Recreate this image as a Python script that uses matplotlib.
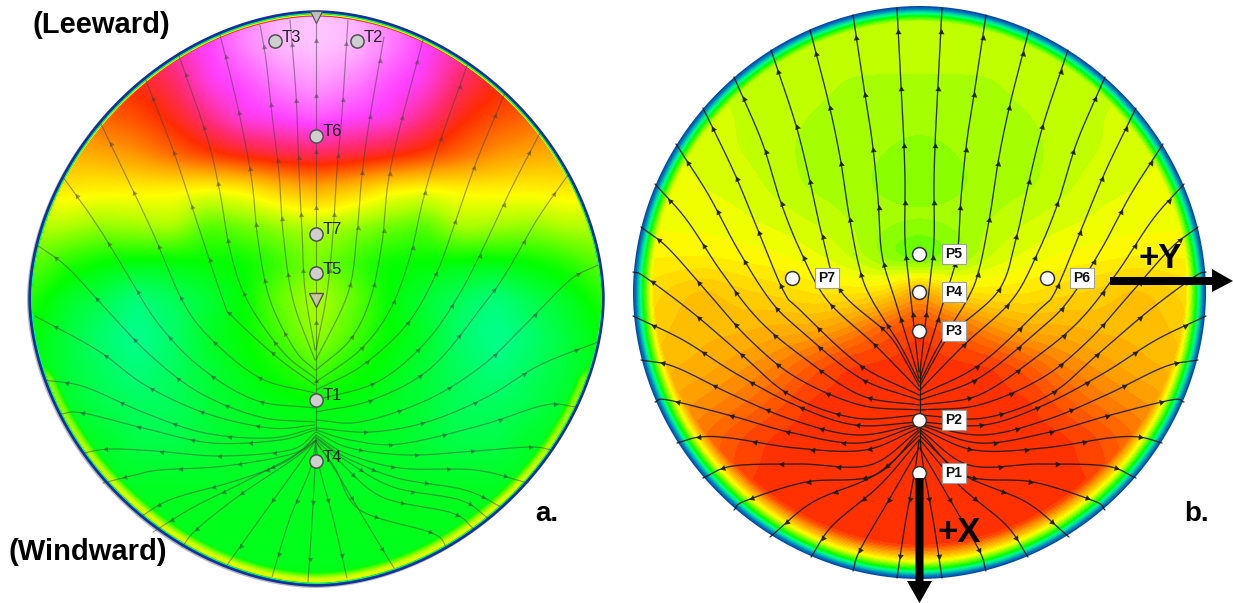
import numpy as np
import matplotlib
matplotlib.use("Agg")
import matplotlib.pyplot as plt
from matplotlib.colors import LinearSegmentedColormap
from matplotlib.patches import Polygon

plt.rcParams['font.family'] = ['Liberation Sans', 'DejaVu Sans']

# ---------- colour scale ----------
scale_stops = [0.0, 0.10, 0.22, 0.32, 0.40, 0.50, 0.55, 0.65, 0.75, 0.81, 0.88, 1.0]
scale_colors = ['#0a2a9a', '#0080c0', '#00d0a0', '#00ff90', '#00ff00', '#b4ff00', '#ffff00',
                '#ffa000', '#ff2d00', '#ff2a70', '#ff40ff', '#ffe0ff']

# ---------- fields (half-disc, mirrored), columns = distance from the axis ----------
col_dx = [0, 36, 72, 108, 144, 180, 216, 252, 288]
row_dy = [-288, -252, -216, -180, -144, -108, -72, -36, 0, 36, 72, 108, 144, 180, 216, 252, 288]

field_a = [
    [.98, .97, .93, .89, .85, .80, .78, .75, .75],
    [.98, .97, .93, .88, .84, .80, .78, .75, .75],
    [.95, .93, .89, .87, .80, .76, .75, .74, .74],
    [.90, .88, .87, .82, .76, .72, .70, .68, .68],
    [.80, .79, .77, .74, .70, .66, .64, .63, .60],
    [.63, .60, .555, .54, .555, .56, .56, .57, .57],
    [.50, .48, .46, .44, .50, .49, .48, .50, .50],
    [.47, .43, .40, .40, .39, .39, .40, .42, .46],
    [.50, .46, .40, .37, .35, .33, .36, .38, .42],
    [.49, .44, .40, .38, .34, .32, .34, .37, .40],
    [.44, .41, .39, .37, .35, .33, .35, .37, .40],
    [.39, .39, .38, .37, .35, .35, .36, .38, .40],
    [.39, .38, .38, .37, .36, .36, .38, .39, .40],
    [.385, .38, .38, .38, .38, .38, .385, .39, .39],
    [.385, .385, .385, .385, .385, .385, .385, .39, .39],
    [.385, .385, .385, .385, .385, .385, .39, .39, .39],
    [.39, .39, .39, .39, .39, .39, .39, .39, .39],
]
field_b = [
    [.505, .505, .505, .505, .505, .51, .51, .51, .51],
    [.505, .505, .505, .505, .505, .51, .51, .51, .51],
    [.50, .50, .50, .505, .51, .51, .515, .52, .52],
    [.49, .49, .495, .50, .505, .515, .52, .525, .53],
    [.48, .485, .49, .495, .505, .515, .525, .53, .53],
    [.475, .48, .49, .495, .51, .525, .53, .54, .54],
    [.49, .49, .50, .515, .525, .535, .54, .54, .55],
    [.43, .47, .515, .535, .55, .555, .56, .56, .56],
    [.66, .58, .57, .575, .59, .60, .62, .60, .57],
    [.74, .71, .66, .63, .63, .62, .62, .61, .58],
    [.74, .74, .74, .71, .67, .65, .63, .62, .60],
    [.74, .74, .74, .74, .71, .68, .66, .64, .60],
    [.74, .74, .74, .74, .74, .72, .69, .65, .60],
    [.74, .74, .74, .74, .74, .73, .68, .63, .60],
    [.74, .74, .74, .74, .74, .74, .72, .66, .60],
    [.74, .74, .74, .74, .74, .74, .74, .70, .60],
    [.74, .74, .74, .74, .74, .74, .74, .72, .60],
]
# ceiling of the value against distance from the rim
rim_d_a = [0, 1.5, 3, 4, 5, 6]
rim_v_a = [.02, .06, .40, .56, .78, 1.0]
rim_d_b = [0, 3, 6, 9, 13, 18, 24, 32, 45]
rim_v_b = [.03, .10, .25, .38, .46, .55, .63, .72, .80]
# pale band inside the rim of disc a, lower half
glow_d = [3, 7, 11, 16]
glow_v = [.54, .52, .45, .36]
glow_dy = [0, 80, 200, 288]
glow_k = [.0, .88, 1.0, 1.0]
# outline exponent of each disc
shape_a = 1.85
shape_b = 1.95

# ---------- streamlines (picture coordinates), rim end first ----------
lines_a = [
    [(316, 15), (316, 120), (316, 250), (316, 345), (316, 430)],
    [(290, 20), (296, 95), (299, 170), (302, 232), (305, 290), (315, 350)],
    [(260, 25), (266, 60), (272, 115), (279, 173), (283, 232), (293, 300), (315, 360)],
    [(220, 35), (229, 70), (241, 122), (252, 182), (258, 240), (270, 300), (295, 350), (315, 370)],
    [(178, 53), (207, 137), (220, 193), (230, 250), (247, 300), (283, 352), (315, 378)],
    [(145, 78), (173, 150), (192, 207), (223, 300), (233, 317), (278, 358), (315, 385)],
    [(100, 122), (128, 180), (153, 233), (182, 300), (210, 338), (260, 378), (315, 393)],
    [(63, 177), (95, 222), (123, 267), (157, 322), (200, 367), (255, 400), (315, 408)],
    [(37, 245), (67, 267), (107, 310), (150, 355), (200, 393), (260, 417), (315, 422)],
    [(35, 316), (97, 350), (145, 385), (205, 413), (270, 428), (315, 425)],
    [(45, 380), (85, 387), (145, 413), (205, 433), (270, 438), (315, 428)],
    [(60, 414), (83, 413), (147, 429), (212, 443), (280, 440), (315, 430)],
    [(83, 453), (110, 449), (155, 451), (220, 456), (290, 450), (316, 432)],
    [(103, 483), (135, 475), (160, 470), (225, 466), (295, 453), (316, 435)],
    [(140, 517), (172, 499), (235, 481), (285, 462), (316, 437)],
    [(153, 532), (192, 508), (238, 485), (295, 455), (316, 440)],
    [(182, 547), (197, 529), (240, 495), (295, 458), (316, 440)],
    [(227, 565), (267, 509), (300, 463), (316, 440)],
    [(272, 577), (290, 518), (310, 470), (316, 440)],
    [(308, 582), (312, 522), (315, 467), (316, 440)],
    [(348, 20), (342, 113), (337, 170), (333, 233), (327, 293), (316, 350)],
    [(384, 37), (370, 117), (362, 175), (357, 233), (348, 293), (316, 360)],
    [(423, 40), (400, 127), (388, 183), (382, 243), (370, 300), (350, 340), (316, 370)],
    [(468, 63), (440, 142), (423, 200), (410, 257), (390, 310), (360, 350), (316, 382)],
    [(505, 93), (477, 160), (457, 217), (437, 272), (408, 323), (363, 365), (316, 390)],
    [(540, 133), (512, 187), (487, 240), (460, 293), (425, 343), (377, 382), (316, 400)],
    [(568, 175), (538, 218), (508, 270), (487, 300), (432, 367), (372, 400), (316, 412)],
    [(598, 265), (570, 280), (528, 322), (483, 365), (427, 400), (360, 422), (316, 420)],
    [(598, 342), (540, 365), (487, 397), (427, 422), (370, 432), (316, 428)],
    [(577, 407), (545, 405), (482, 425), (400, 444), (350, 440), (316, 430)],
    [(553, 450), (530, 447), (475, 451), (408, 455), (350, 448), (316, 432)],
    [(528, 483), (475, 470), (400, 468), (345, 453), (316, 435)],
    [(503, 508), (465, 490), (397, 478), (345, 457), (316, 437)],
    [(488, 518), (460, 500), (393, 487), (345, 460), (316, 438)],
    [(475, 530), (452, 513), (382, 497), (340, 462), (316, 440)],
    [(447, 548), (432, 533), (360, 510), (335, 468), (316, 442)],
    [(394, 568), (372, 532), (335, 470), (316, 442)],
    [(347, 578), (333, 518), (320, 470), (316, 445)],
]
lines_b_left = [
    [(897, 8), (900, 65), (903, 122), (905, 180), (905, 240), (910, 290), (919, 372)],
    [(853, 15), (863, 82), (872, 140), (878, 198), (882, 255), (895, 300), (919, 378)],
    [(810, 30), (828, 100), (840, 157), (849, 215), (860, 270), (872, 300), (900, 345), (919, 382)],
    [(771, 50), (795, 122), (809, 177), (822, 235), (840, 290), (887, 333), (905, 360), (919, 386)],
    [(734, 77), (762, 142), (780, 200), (800, 250), (827, 300), (875, 345), (919, 390)],
    [(703, 108), (733, 170), (756, 225), (783, 290), (800, 310), (860, 365), (919, 395)],
    [(676, 144), (708, 194), (737, 248), (770, 300), (800, 330), (860, 378), (919, 400)],
    [(655, 184), (686, 219), (720, 270), (757, 318), (800, 355), (860, 395), (919, 405)],
    [(641, 227), (668, 248), (708, 293), (750, 340), (797, 378), (860, 405), (919, 410)],
    [(633, 272), (645, 277), (693, 313), (742, 355), (790, 395), (855, 418), (919, 415)],
    [(633, 316), (683, 340), (735, 373), (795, 405), (855, 425), (919, 422)],
    [(641, 360), (675, 367), (733, 395), (793, 420), (857, 435), (919, 424)],
    [(655, 402), (668, 400), (732, 416), (793, 433), (860, 443), (919, 425)],
    [(677, 443), (700, 437), (730, 438), (796, 448), (865, 450), (919, 428)],
    [(703, 478), (733, 466), (800, 464), (870, 465), (919, 430)],
    [(734, 510), (745, 501), (806, 482), (875, 475), (919, 432)],
    [(770, 537), (813, 502), (875, 475), (919, 436)],
    [(811, 557), (833, 525), (880, 485), (919, 440)],
    [(853, 571), (860, 550), (890, 498), (919, 448)],
    [(897, 578), (905, 525), (915, 470), (919, 440)],
]

# ---------- probes and labels ----------
t_names = ['T1', 'T2', 'T3', 'T4', 'T5', 'T6', 'T7']
t_x = [316, 357, 275, 316, 316, 316, 316]
t_y = [400, 41, 41, 461, 273, 136, 234]
p_names = ['P1', 'P2', 'P3', 'P4', 'P5', 'P6', 'P7']
p_x = [919, 919, 919, 919, 919, 1047, 792]
p_y = [473, 420, 331, 292, 254, 278, 278]
marker_tri_x = [316, 316]
marker_tri_y = [17, 300]

fig = plt.figure(figsize=(12.33, 6.03), dpi=100, facecolor='white')
ax = fig.add_axes([0, 0, 1, 1])
ax.set_xlim(0, 1233)
ax.set_ylim(603, 0)
ax.axis('off')

cmap = LinearSegmentedColormap.from_list('cfd', list(zip(scale_stops, scale_colors)), N=512)
cmap_b = LinearSegmentedColormap.from_list('cfd_b', list(zip(scale_stops, scale_colors)), N=64)


def blur(z, sigma):
    k = np.arange(-int(3 * sigma), int(3 * sigma) + 1)
    g = np.exp(-k**2 / (2.0 * sigma**2))
    g /= g.sum()
    pad = len(k) // 2
    z = np.pad(z, pad, mode='edge')
    z = np.apply_along_axis(lambda m: np.convolve(m, g, mode='same'), 0, z)
    z = np.apply_along_axis(lambda m: np.convolve(m, g, mode='same'), 1, z)
    return z[pad:-pad, pad:-pad]


def make_field(rows, sigma):
    half = np.array(rows, dtype=float)
    full = np.hstack([half[:, :0:-1], half])
    xs = np.r_[-np.array(col_dx[:0:-1]), col_dx]
    g = np.arange(-292, 293)
    a = np.array([np.interp(g, xs, r) for r in full])
    b = np.array([np.interp(g, row_dy, c) for c in a.T]).T
    return g, blur(b, sigma)


def outline(cx, cy, r, n):
    t = np.linspace(0, 2 * np.pi, 721)
    c, s = np.cos(t), np.sin(t)
    rho = r / (np.abs(c)**n + np.abs(s)**n)**(1.0 / n)
    return np.c_[cx + rho * c, cy + rho * s]


def spline(pts, n=24):
    p = np.array(pts, dtype=float)
    p = np.vstack([2 * p[0] - p[1], p, 2 * p[-1] - p[-2]])
    out = []
    for i in range(1, len(p) - 2):
        t = np.linspace(0, 1, n, endpoint=False)[:, None]
        out.append(0.5 * (2 * p[i] + (p[i + 1] - p[i - 1]) * t
                          + (2 * p[i - 1] - 5 * p[i] + 4 * p[i + 1] - p[i + 2]) * t**2
                          + (3 * p[i] - p[i - 1] - 3 * p[i + 1] + p[i + 2]) * t**3))
    out.append(p[-2][None])
    return np.vstack(out)


def draw_stream(pts, color, lw, alpha, head):
    c = spline(pts)
    ax.plot(c[:, 0], c[:, 1], color=color, lw=lw, alpha=alpha, solid_capstyle='round', zorder=3)
    s = np.r_[0, np.cumsum(np.hypot(*np.diff(c, axis=0).T))]
    for d in np.arange(22, s[-1] - 45, 57):
        i = np.searchsorted(s, d)
        v = c[i - 2] - c[i + 2]
        ang = np.degrees(np.arctan2(-v[1], v[0]))
        ax.plot(c[i, 0], c[i, 1], marker=(3, 0, ang - 90), ms=head, color=color,
                mew=0, alpha=alpha, zorder=3, ls='none')


# ---------- disc a ----------
cxa, cya, ra = 316.5, 298.5, 287.5
g, za = make_field(field_a, 7)
X, Y = np.meshgrid(g, g)
rho_a = (np.abs(X)**shape_a + np.abs(Y)**shape_a)**(1.0 / shape_a)
dist = ra - rho_a
k = np.interp(Y, glow_dy, glow_k)
za = np.maximum(za, np.interp(dist, glow_d, glow_v) * k)
za = np.minimum(za, np.interp(dist, rim_d_a, rim_v_a))
ax.add_patch(Polygon(outline(cxa - 1, cya + 1, ra + 1, shape_a), fc='#b8b8c0', ec='none', zorder=0))
im = ax.imshow(za, cmap=cmap, vmin=0, vmax=1, extent=(cxa - 292.5, cxa + 292.5, cya + 292.5, cya - 292.5),
               interpolation='bilinear', zorder=1, aspect='auto')
im.set_clip_path(Polygon(outline(cxa, cya, ra, shape_a), transform=ax.transData))
ax.add_patch(Polygon(outline(cxa, cya, ra - 0.5, shape_a), fc='none', ec='#12309a', lw=1.8, zorder=2))
for l in lines_a:
    draw_stream(l, '#404040', 0.85, 0.5, 4.5)
ax.plot(marker_tri_x[:1], marker_tri_y[:1], marker='v', ms=8, mfc='#c0c0c0', mec='#505050', mew=0.8, ls='none', zorder=5)
ax.plot(marker_tri_x[1:], marker_tri_y[1:], marker='v', ms=10, mfc='#c8c8a0', mec='#505050', mew=1, ls='none', zorder=5)
ax.plot(t_x, t_y, 'o', ms=9.5, mfc='#cfcfcf', mec='#505050', mew=1.1, ls='none', zorder=5)
for n, x, y in zip(t_names, t_x, t_y):
    ax.text(x + 6.5, y - 4, n, fontsize=12, color='#202020', va='center', ha='left', zorder=6)

# ---------- disc b ----------
cxb, cyb, rb = 919.5, 292.5, 286.5
g, zb = make_field(field_b, 9)
rho_b = (np.abs(X)**shape_b + np.abs(Y)**shape_b)**(1.0 / shape_b)
dist = rb - rho_b
zb = np.minimum(zb, np.interp(dist, rim_d_b, rim_v_b))
im = ax.imshow(zb, cmap=cmap_b, vmin=0, vmax=1, extent=(cxb - 292.5, cxb + 292.5, cyb + 292.5, cyb - 292.5),
               interpolation='nearest', zorder=1, aspect='auto')
im.set_clip_path(Polygon(outline(cxb, cyb, rb, shape_b), transform=ax.transData))
for l in lines_b_left:
    draw_stream(l, '#1a1a10', 0.95, 0.9, 5)
    draw_stream([(2 * cxb - x, y) for x, y in l], '#1a1a10', 0.95, 0.9, 5)
ax.plot([cxb, cxb], [372, 450], color='#1a1a10', lw=0.9, zorder=3)

ax.plot(p_x, p_y, 'o', ms=10, mfc='white', mec='#303030', mew=1.1, ls='none', zorder=5)
for n, x, y in zip(p_names, p_x, p_y):
    ax.text(x + 35, y, n, fontsize=10, fontweight='bold', color='#111111', va='center', ha='center', zorder=7,
            bbox=dict(boxstyle='square,pad=0.25', fc='white', ec='#a0a0a0', lw=0.8))

# axes arrows
ax.add_patch(Polygon([(915.5, 478), (923.5, 478), (923.5, 581), (932, 581), (919.5, 603), (907, 581), (915.5, 581)],
                     fc='black', ec='none', zorder=8, clip_on=False))
ax.add_patch(Polygon([(1110, 277), (1212, 277), (1212, 269), (1233, 281), (1212, 292), (1212, 285), (1110, 285)],
                     fc='black', ec='none', zorder=8, clip_on=False))
ax.text(1160, 258, '+Y', fontsize=25, fontweight='bold', color='black', ha='center', va='center', zorder=9)
ax.text(959, 533, '+X', fontsize=25, fontweight='bold', color='black', ha='center', va='center', zorder=9)
ax.text(101, 25, '(Leeward)', fontsize=21, fontweight='bold', color='black', ha='center', va='center', zorder=9)
ax.text(88, 552, '(Windward)', fontsize=21, fontweight='bold', color='black', ha='center', va='center', zorder=9)
ax.text(547, 514, 'a.', fontsize=20, fontweight='bold', color='black', ha='center', va='center', zorder=9)
ax.text(1197, 514, 'b.', fontsize=20, fontweight='bold', color='black', ha='center', va='center', zorder=9)

fig.savefig('out.png', dpi=100, facecolor='white')
